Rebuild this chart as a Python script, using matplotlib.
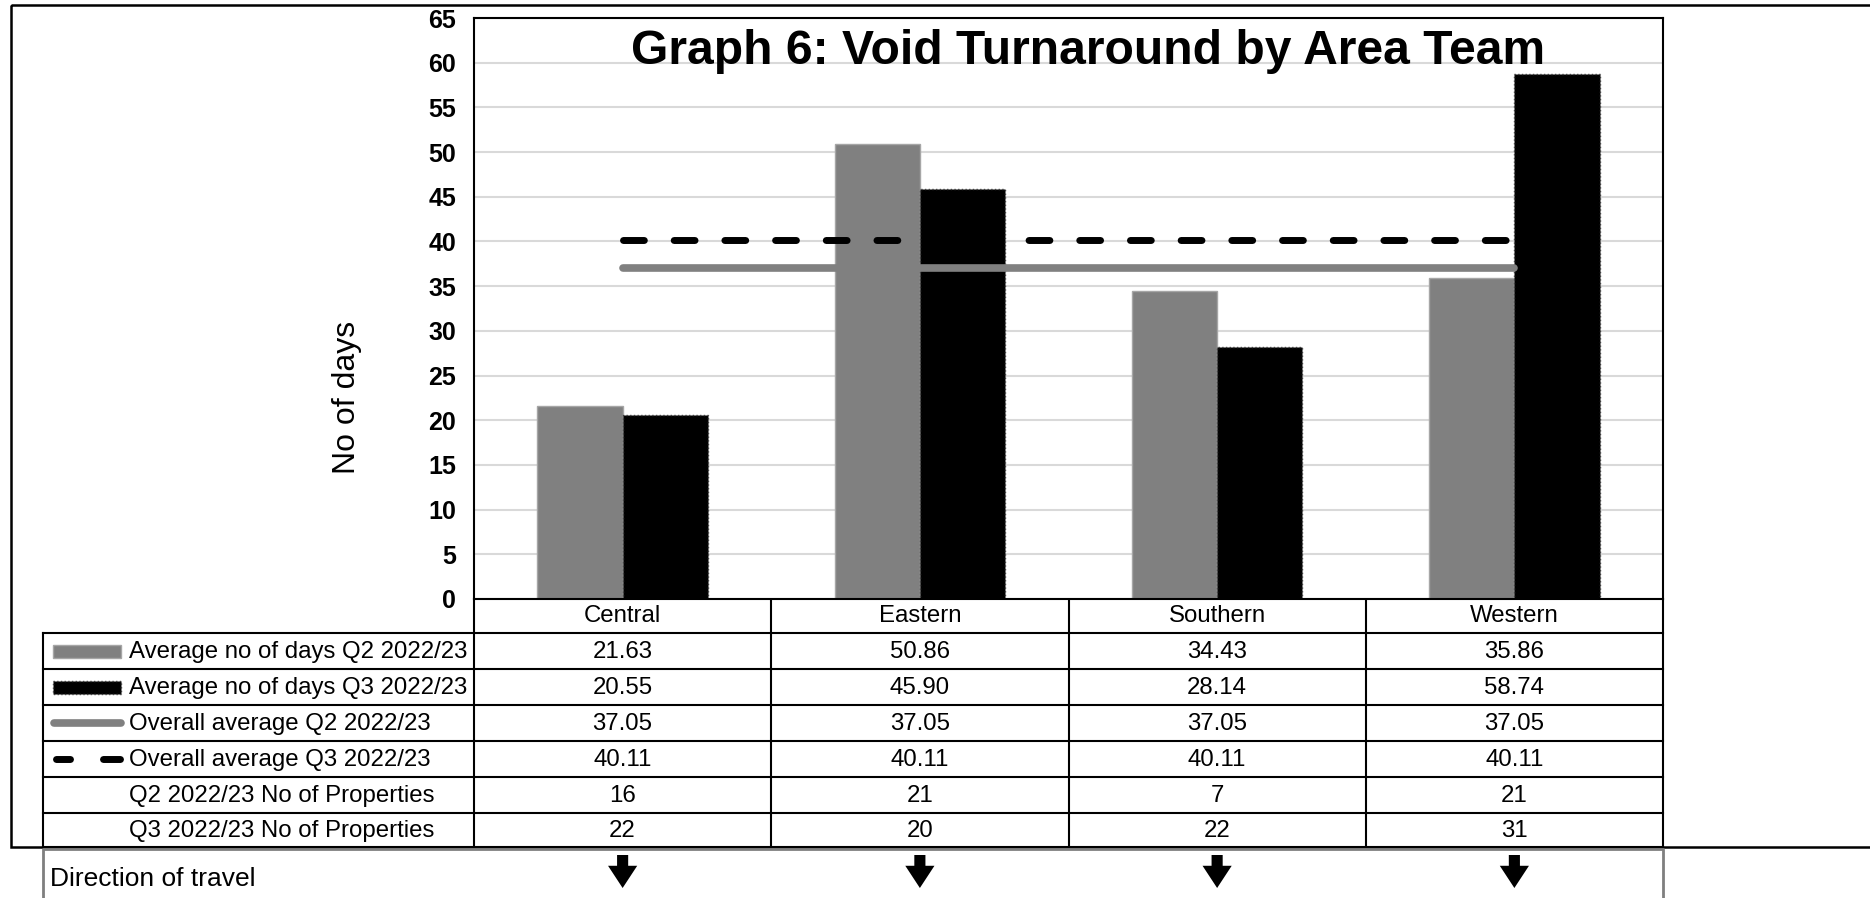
import matplotlib
matplotlib.use("Agg")
import matplotlib.pyplot as plt
from matplotlib.transforms import blended_transform_factory
from matplotlib.patches import Rectangle
from matplotlib.lines import Line2D

plt.rcParams['font.family'] = ['Liberation Sans', 'DejaVu Sans']

# ---- data ----
categories = ["Central", "Eastern", "Southern", "Western"]
q2_days = [21.63, 50.86, 34.43, 35.86]
q3_days = [20.55, 45.90, 28.14, 58.74]
overall_q2 = [37.05, 37.05, 37.05, 37.05]
overall_q3 = [40.11, 40.11, 40.11, 40.11]
q2_props = [16, 21, 7, 21]
q3_props = [22, 20, 22, 31]
row_labels = ["Average no of days Q2 2022/23", "Average no of days Q3 2022/23",
              "Overall average Q2 2022/23", "Overall average Q3 2022/23",
              "Q2 2022/23 No of Properties", "Q3 2022/23 No of Properties"]
yticks = list(range(0, 66, 5))
title = "Graph 6: Void Turnaround by Area Team"

W, H = 1870, 898
fig = plt.figure(figsize=(W / 100, H / 100), dpi=100)

# plot area in pixels
L, R, T, B = 474, 1663, 18, 599
ax = fig.add_axes([L / W, 1 - B / H, (R - L) / W, (B - T) / H])

GRAY = "#808080"
x = list(range(len(categories)))
bw = 0.287
ax.bar([i - bw / 2 for i in x], q2_days, width=bw, color=GRAY, edgecolor="#a6a6a6", linewidth=1, zorder=2)
ax.bar([i + bw / 2 for i in x], q3_days, width=bw, color="black", edgecolor="#404040", linewidth=1,
       linestyle=":", zorder=2)
ax.plot(x, overall_q2, color=GRAY, lw=5.5, solid_capstyle="round", zorder=3)
ax.plot(x, overall_q3, color="black", lw=5, dash_capstyle="round", linestyle=(0, (3.0, 4.3)), zorder=3)

ax.set_xlim(-0.5, len(categories) - 0.5)
ax.set_ylim(0, 65)
ax.set_yticks(yticks)
ax.set_yticklabels([str(v) for v in yticks], fontsize=18, fontweight="bold")
ax.tick_params(axis="y", length=0, pad=13)
ax.set_xticks([])
ax.grid(axis="y", color="#d9d9d9", lw=1.5, zorder=0)
ax.set_axisbelow(True)
for s in ax.spines.values():
    s.set_color("black")
    s.set_linewidth(1.5)
ax.set_ylabel("No of days", fontsize=23, labelpad=0)
ax.yaxis.set_label_coords((362 - L) / (R - L), 1 - (397 - T) / (B - T))
ax.text(1088 / W, 1 - 52 / H, title, transform=fig.transFigure, ha="center", va="center",
        fontsize=34.6, fontweight="bold", zorder=5)

# overlay for table
tab = fig.add_axes([0, 0, 1, 1], zorder=-1)
tab.set_xlim(0, W)
tab.set_ylim(H, 0)
tab.axis("off")
bl = blended_transform_factory(ax.transData, tab.transData)

# outer chart border
tab.add_patch(Rectangle((11, 5), W + 20, 847 - 5, fill=False, ec="black", lw=1.8))

rows_y = [633, 669, 705, 741, 777, 813, 847]
header_y = (B + rows_y[0]) / 2
lw_t = 1.5
for yy in rows_y:
    tab.plot([43, R], [yy, yy], color="black", lw=lw_t)
tab.plot([43, 43], [rows_y[0], rows_y[-1]], color="black", lw=lw_t)
for b in [-0.5, 0.5, 1.5, 2.5, 3.5]:
    tab.add_line(Line2D([b, b], [B, rows_y[-1]], transform=bl, color="black", lw=lw_t))

fs = 17.3
for i, c in enumerate(categories):
    tab.text(i, header_y, c, transform=bl, ha="center", va="center", fontsize=fs)

row_vals = [[f"{v:.2f}" for v in q2_days], [f"{v:.2f}" for v in q3_days],
            [f"{v:.2f}" for v in overall_q2], [f"{v:.2f}" for v in overall_q3],
            [str(v) for v in q2_props], [str(v) for v in q3_props]]
centers = [(rows_y[k] + rows_y[k + 1]) / 2 for k in range(6)]
for k, (lab, vals) in enumerate(zip(row_labels, row_vals)):
    cy = centers[k]
    tab.text(129, cy + 1, lab, ha="left", va="center", fontsize=fs)
    for i, v in enumerate(vals):
        tab.text(i, cy + 1, v, transform=bl, ha="center", va="center", fontsize=fs)

# legend keys
tab.add_patch(Rectangle((53, centers[0] - 6.5), 68, 13, fc=GRAY, ec="#a6a6a6", lw=1))
tab.add_patch(Rectangle((53, centers[1] - 6.5), 68, 13, fc="black", ec="#404040", lw=1, ls=":"))
tab.plot([54, 121], [centers[2], centers[2]], color=GRAY, lw=5.5, solid_capstyle="round")
tab.plot([56, 70], [centers[3], centers[3]], color="black", lw=5, solid_capstyle="round")
tab.plot([103, 120], [centers[3], centers[3]], color="black", lw=5, solid_capstyle="round")

# direction of travel row
tab.plot([43, 43, R, R], [H + 10, 849, 849, H + 10], color="#7f7f7f", lw=2)
tab.text(50, 879, "Direction of travel", ha="left", va="center", fontsize=19)
for i in x:
    tab.annotate("", xy=(i, 888), xytext=(i, 855), xycoords=bl, textcoords=bl,
                 arrowprops=dict(arrowstyle="simple,head_length=0.8,head_width=1.05,tail_width=0.4",
                                 mutation_scale=20, color="black", shrinkA=0, shrinkB=0, lw=0))

fig.savefig("out.png", dpi=100, facecolor="white")
